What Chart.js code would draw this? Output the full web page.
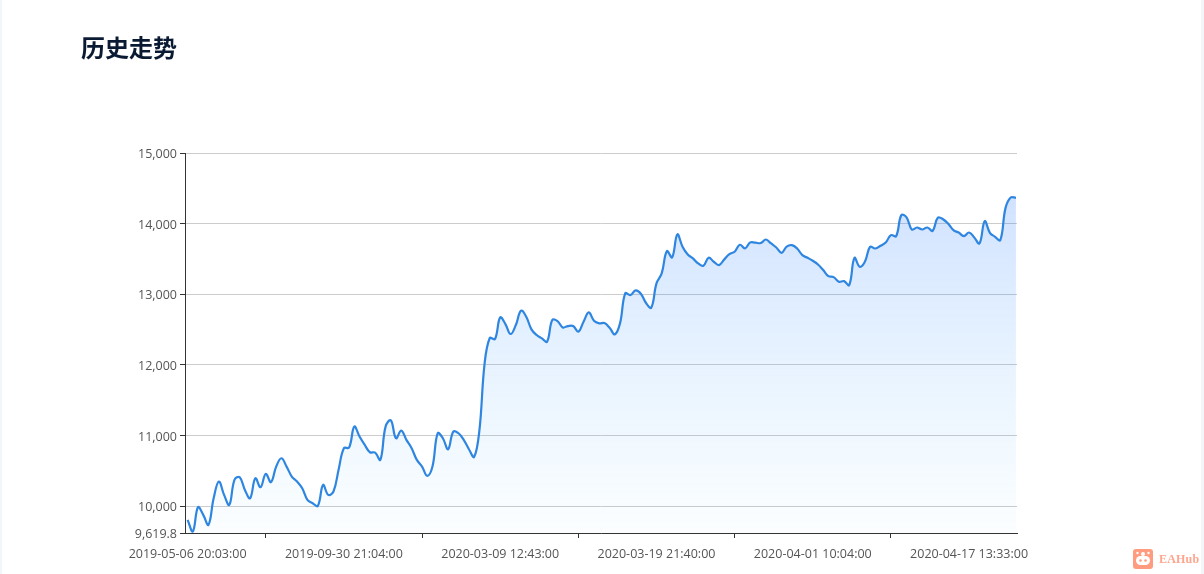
<!DOCTYPE html>
<html lang="zh">
<head>
<meta charset="utf-8">
<script src="https://cdn.jsdelivr.net/npm/chart.js@4"></script>
<style>
html,body{margin:0;padding:0;background:#f2f6fa;overflow:hidden}
#page{position:absolute;left:2px;top:0;width:1199px;height:574px;background:#fff}
#wrap{position:absolute;left:0;top:0;width:1204px;height:574px}
h1{position:absolute;left:81px;top:30px;margin:0;font:bold 24px/34px "Noto Sans CJK SC",sans-serif;color:#0b1a33}
#brand{position:absolute;left:1133px;top:549px;height:20px;display:flex;align-items:center}
#brand b{margin-left:6px;font:bold 12px/20px "Liberation Serif",serif;color:#ffa58e;letter-spacing:.2px}
</style>
</head>
<body>
<div id="page"></div>
<div id="wrap"><canvas id="c" width="1204" height="574"></canvas></div>
<h1>历史走势</h1>
<div id="brand">
<svg width="20" height="20" viewBox="0 0 20 20"><rect width="20" height="20" rx="3" fill="#ff9c80"/><circle cx="10" cy="5" r="2" fill="#fff"/><circle cx="4.5" cy="4" r="1.2" fill="#fff"/><circle cx="15.5" cy="4" r="1.2" fill="#fff"/><rect x="3" y="7" width="14" height="9" rx="4.5" fill="#fff"/><circle cx="7.5" cy="11.5" r="1.3" fill="#ff9c80"/><circle cx="12.5" cy="11.5" r="1.3" fill="#ff9c80"/></svg>
<b>EAHub</b>
</div>
<script>
const tickLabels = ["2019-05-06 20:03:00","2019-09-30 21:04:00","2020-03-09 12:43:00","2020-03-19 21:40:00","2020-04-01 10:04:00","2020-04-17 13:33:00"];
const labelIndexes = [0,30,60,90,120,150];
const tickMarkIndexes = [15,45,75,105,135];
const yTicks = [9619.8,10000,11000,12000,13000,14000,15000];
const seriesValues = [
9806,9641,9985,9877,9735,10112,10348,10159,10018,10372,
10409,10230,10112,10395,10268,10457,10339,10560,10678,10560,
10419,10348,10254,10089,10042,10004,10301,10159,10207,10523,
10820,10829,11126,10985,10867,10763,10758,10655,11126,11215,
10961,11070,10938,10820,10655,10560,10428,10560,11032,10961,
10806,11055,11032,10938,10806,10697,11065,12013,12380,12366,
12672,12578,12437,12564,12767,12682,12503,12423,12375,12328,
12635,12620,12531,12550,12550,12470,12611,12743,12625,12588,
12592,12526,12432,12588,13012,12989,13055,13008,12876,12810,
13154,13295,13611,13522,13847,13673,13564,13508,13437,13404,
13517,13460,13413,13493,13569,13602,13700,13650,13735,13730,
13725,13775,13719,13662,13587,13676,13695,13648,13554,13516,
13474,13422,13342,13257,13243,13177,13186,13129,13516,13389,
13459,13672,13648,13686,13733,13837,13823,14120,14090,13917,
13945,13917,13945,13898,14082,14063,13997,13907,13874,13823,
13874,13804,13719,14035,13870,13813,13766,14223,14370,14365
];
const points = seriesValues.map((v,i)=>({x:i,y:v}));
const fontFamily = '"Open Sans",sans-serif';

new Chart(document.getElementById('c'),{
  type:'line',
  data:{datasets:[{
    data:points,
    borderColor:'#2f86e0',
    borderWidth:2.2,
    pointRadius:0,
    tension:0.4,
    fill:'start',
    backgroundColor(ctx){
      const a=ctx.chart.chartArea;
      if(!a) return 'rgba(24,110,255,.2)';
      const g=ctx.chart.ctx.createLinearGradient(0,197,0,a.bottom);
      g.addColorStop(0,'rgba(24,110,255,.2)');
      g.addColorStop(1,'rgba(60,180,255,.02)');
      return g;
    }
  }]},
  options:{
    responsive:false,animation:false,
    layout:{padding:{left:0,right:187,top:153,bottom:0}},
    plugins:{legend:{display:false},title:{display:false},tooltip:{enabled:false}},
    scales:{
      x:{
        type:'linear',min:-0.5,max:159.2,
        afterFit(s){s.height=41},
        afterBuildTicks(s){
          s.ticks=[...labelIndexes,...tickMarkIndexes].sort((a,b)=>a-b).map(v=>({value:v}));
        },
        grid:{drawOnChartArea:false,tickLength:5,
          tickColor(c){return tickMarkIndexes.includes(c.tick&&c.tick.value)?'#333':'rgba(0,0,0,0)'}},
        border:{color:'#333',width:1},
        ticks:{autoSkip:false,maxRotation:0,padding:9,color:'#555',font:{family:fontFamily,size:12.5},
          callback(v){const i=labelIndexes.indexOf(v);return i<0?'':tickLabels[i]}}
      },
      y:{
        min:9619.8,max:15000,
        afterFit(s){s.width=185},
        afterBuildTicks(s){s.ticks=yTicks.map(v=>({value:v}))},
        grid:{color:'#ccc',tickColor:'#333',tickLength:5},
        border:{color:'#333',width:1},
        ticks:{padding:3,labelOffset:1.5,color:'#555',font:{family:fontFamily,size:12.5},
          callback(v){return v.toLocaleString('en-US',{maximumFractionDigits:1})}}
      }
    }
  }
});
</script>
</body>
</html>
